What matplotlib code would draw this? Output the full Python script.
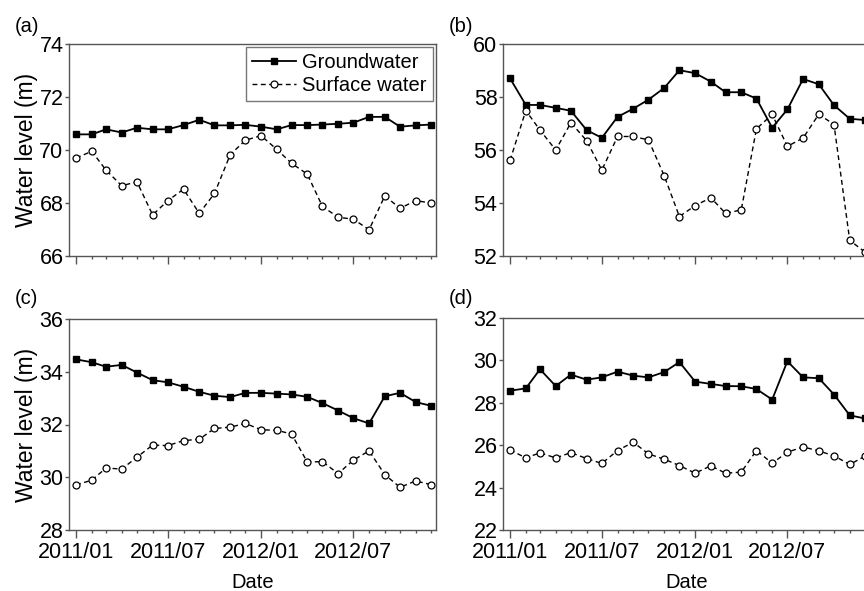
import matplotlib
matplotlib.use("Agg")
from matplotlib import pyplot as plt
import matplotlib.dates as mdates
import numpy as np
import pandas as pd

plt.rcParams['font.family'] = ['Liberation Sans', 'DejaVu Sans']

months = pd.date_range("2011-01-01", "2012-12-01", freq="MS")

# panel (a)
gw_a = [70.59, 70.59, 70.78, 70.66, 70.84, 70.78, 70.78, 70.94, 71.14, 70.93, 70.93, 70.95,
        70.88, 70.78, 70.94, 70.94, 70.96, 70.99, 71.03, 71.25, 71.25, 70.88, 70.93, 70.96]
sw_a = [69.70, 69.95, 69.24, 68.65, 68.80, 67.55, 68.09, 68.52, 67.61, 68.36, 69.82, 70.37,
        70.54, 70.02, 69.50, 69.09, 67.87, 67.46, 67.39, 66.99, 68.27, 67.80, 68.09, 68.00]
# panel (b)
gw_b = [58.70, 57.70, 57.70, 57.59, 57.48, 56.75, 56.46, 57.25, 57.56, 57.90, 58.34, 59.01,
        58.90, 58.58, 58.18, 58.18, 57.94, 56.84, 57.53, 58.68, 58.48, 57.69, 57.18, 57.13]
sw_b = [55.61, 57.49, 56.75, 56.00, 57.03, 56.35, 55.24, 56.51, 56.51, 56.38, 55.03, 53.49,
        53.90, 54.20, 53.61, 53.74, 56.80, 57.34, 56.14, 56.45, 57.35, 56.96, 52.59, 52.15]
# panel (c)
gw_c = [34.47, 34.36, 34.19, 34.26, 33.97, 33.68, 33.60, 33.43, 33.24, 33.09, 33.04, 33.20,
        33.20, 33.17, 33.14, 33.05, 32.81, 32.53, 32.24, 32.04, 33.07, 33.20, 32.85, 32.71]
sw_c = [29.71, 29.89, 30.35, 30.31, 30.76, 31.22, 31.20, 31.39, 31.44, 31.85, 31.90, 32.04,
        31.80, 31.78, 31.64, 30.58, 30.59, 30.14, 30.65, 31.00, 30.10, 29.62, 29.86, 29.72]
# panel (d)
gw_d = [28.57, 28.68, 29.58, 28.79, 29.33, 29.09, 29.20, 29.47, 29.28, 29.20, 29.45, 29.92,
        29.00, 28.89, 28.79, 28.78, 28.65, 28.15, 29.96, 29.20, 29.16, 28.39, 27.41, 27.26]
sw_d = [25.78, 25.40, 25.64, 25.40, 25.65, 25.37, 25.14, 25.75, 26.14, 25.59, 25.34, 25.04,
        24.68, 25.03, 24.68, 24.73, 25.75, 25.15, 25.67, 25.92, 25.73, 25.50, 25.09, 25.48]

panels = [
    ("(a)", gw_a, sw_a, (66, 74)),
    ("(b)", gw_b, sw_b, (52, 60)),
    ("(c)", gw_c, sw_c, (28, 36)),
    ("(d)", gw_d, sw_d, (22, 32)),
]

W, H = 864, 591
fig = plt.figure(figsize=(W / 100, H / 100), dpi=100)

# axes boxes in pixels: left, top, right, bottom (right column runs past the edge)
boxes = [(69, 44, 436, 256), (503, 44, 870, 256),
         (69, 319, 436, 530), (503, 318, 870, 530)]

spine_col = "#555555"
xlim = (pd.Timestamp("2010-12-18"), pd.Timestamp("2012-12-11"))

for i, ((tag, gw, sw, ylim), (l, t, r, b)) in enumerate(zip(panels, boxes)):
    ax = fig.add_axes([l / W, 1 - b / H, (r - l) / W, (b - t) / H])
    ax.plot(months, gw, '-', color='black', lw=1.3, marker='s', ms=4.6,
            mfc='black', mec='black', label='Groundwater')
    ax.plot(months, sw, '--', color='black', lw=1.0, dashes=(3.5, 2.5), marker='o', ms=5,
            mfc='white', mec='black', mew=0.9, label='Surface water')

    ax.set_xlim(*xlim)
    ax.set_ylim(*ylim)
    ax.set_yticks(np.arange(ylim[0], ylim[1] + 0.1, 2))

    ax.xaxis.set_major_locator(mdates.MonthLocator(bymonth=[1, 7]))
    ax.xaxis.set_minor_locator(mdates.MonthLocator())
    ax.xaxis.set_major_formatter(mdates.DateFormatter('%Y/%m'))

    for s in ax.spines.values():
        s.set_color(spine_col)
        s.set_linewidth(1.0)
    ax.tick_params(axis='both', which='both', direction='out', color=spine_col,
                   top=False, right=False, labelsize=15.5, width=1.0)
    ax.tick_params(axis='x', which='major', length=5.5, pad=3)
    ax.tick_params(axis='x', which='minor', length=2.5)
    ax.tick_params(axis='y', which='major', length=3, pad=1)

    if i < 2:
        ax.tick_params(axis='x', labelbottom=False)
    else:
        ax.set_xlabel('Date', fontsize=14.5, labelpad=7)
    if i % 2 == 0:
        ax.set_ylabel('Water level (m)', fontsize=16.5, labelpad=1)

    fig.text((l - 54) / W, 1 - 26 / H if i < 2 else 1 - 299 / H, tag,
             fontsize=14.5, va='center', ha='left')

    if i == 0:
        leg = ax.legend(loc='upper right', fontsize=14.5, numpoints=1, handlelength=2.2,
                        frameon=True, fancybox=False, borderaxespad=0.15,
                        borderpad=0.3, labelspacing=0.2, handletextpad=0.3)
        leg.get_frame().set_edgecolor(spine_col)
        leg.get_frame().set_linewidth(1.0)

fig.savefig("out.png", dpi=100)
